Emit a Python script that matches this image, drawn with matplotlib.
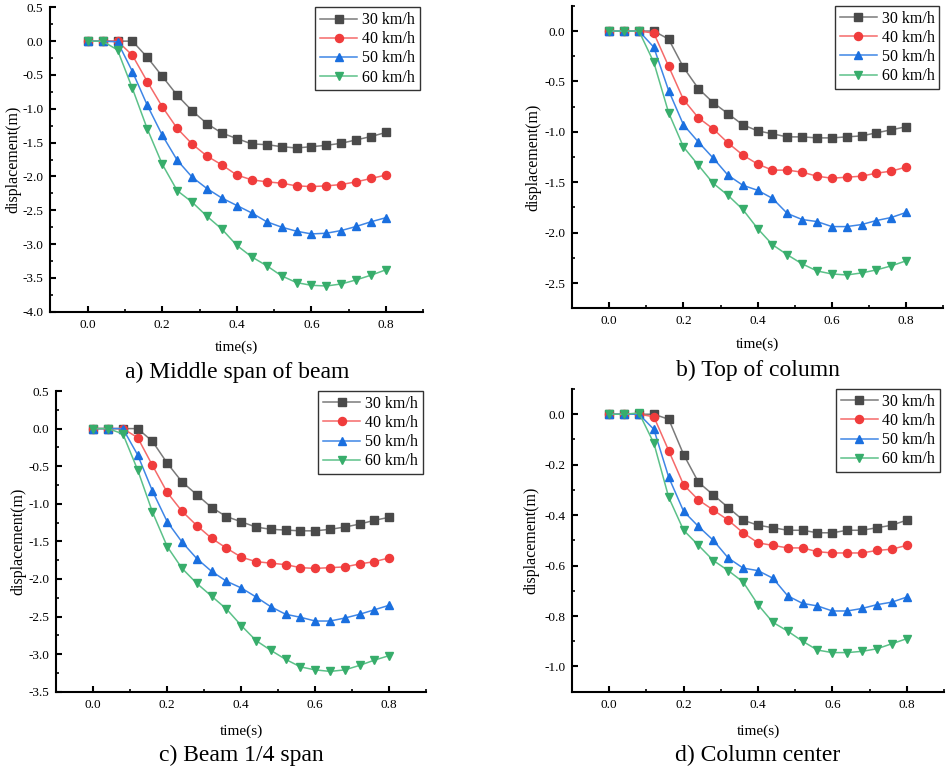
import matplotlib
matplotlib.use("Agg")
import matplotlib.pyplot as plt
from matplotlib.ticker import MultipleLocator, FormatStrFormatter

plt.rcParams['font.family'] = ['Liberation Serif', 'DejaVu Serif']

time = [0.00, 0.04, 0.08, 0.12, 0.16, 0.20, 0.24, 0.28, 0.32, 0.36, 0.40,
        0.44, 0.48, 0.52, 0.56, 0.60, 0.64, 0.68, 0.72, 0.76, 0.80]
speeds = ["30 km/h", "40 km/h", "50 km/h", "60 km/h"]

# a) Middle span of beam
a_30 = [0, 0, 0, 0, -0.24, -0.52, -0.80, -1.03, -1.22, -1.36, -1.44,
        -1.52, -1.53, -1.56, -1.58, -1.56, -1.54, -1.51, -1.46, -1.41, -1.35]
a_40 = [0, 0, 0, -0.21, -0.60, -0.97, -1.29, -1.52, -1.70, -1.83, -1.98,
        -2.05, -2.08, -2.10, -2.14, -2.15, -2.14, -2.12, -2.08, -2.03, -1.98]
a_50 = [0, 0, -0.01, -0.45, -0.95, -1.39, -1.76, -2.01, -2.18, -2.32, -2.43,
        -2.54, -2.67, -2.75, -2.81, -2.85, -2.84, -2.80, -2.74, -2.67, -2.61]
a_60 = [0, 0, -0.13, -0.70, -1.30, -1.82, -2.21, -2.38, -2.59, -2.78, -3.02,
        -3.19, -3.32, -3.47, -3.57, -3.61, -3.62, -3.59, -3.53, -3.46, -3.38]

# b) Top of column
b_30 = [0, 0, 0, 0, -0.08, -0.36, -0.57, -0.71, -0.82, -0.93, -0.99,
        -1.02, -1.05, -1.05, -1.06, -1.06, -1.05, -1.04, -1.01, -0.98, -0.95]
b_40 = [0, 0, 0, -0.02, -0.35, -0.68, -0.86, -0.97, -1.11, -1.23, -1.32,
        -1.38, -1.38, -1.40, -1.44, -1.46, -1.45, -1.44, -1.41, -1.39, -1.35]
b_50 = [0, 0, 0, -0.16, -0.59, -0.93, -1.10, -1.26, -1.43, -1.53, -1.58,
        -1.66, -1.81, -1.87, -1.89, -1.94, -1.94, -1.92, -1.88, -1.85, -1.80]
b_60 = [0, 0, 0, -0.31, -0.81, -1.15, -1.33, -1.51, -1.63, -1.77, -1.96,
        -2.12, -2.22, -2.31, -2.38, -2.41, -2.42, -2.40, -2.37, -2.33, -2.28]

# c) Beam 1/4 span
c_30 = [0, 0, 0, 0, -0.17, -0.46, -0.71, -0.88, -1.05, -1.17, -1.24,
        -1.31, -1.34, -1.35, -1.36, -1.36, -1.34, -1.31, -1.27, -1.22, -1.18]
c_40 = [0, 0, 0, -0.12, -0.49, -0.85, -1.10, -1.29, -1.46, -1.59, -1.71,
        -1.77, -1.79, -1.81, -1.85, -1.86, -1.85, -1.84, -1.80, -1.77, -1.72]
c_50 = [0, 0, 0, -0.35, -0.83, -1.24, -1.51, -1.73, -1.90, -2.03, -2.12,
        -2.24, -2.37, -2.47, -2.51, -2.56, -2.56, -2.52, -2.47, -2.41, -2.35]
c_60 = [0, 0, -0.07, -0.55, -1.11, -1.57, -1.86, -2.06, -2.23, -2.40, -2.62,
        -2.82, -2.95, -3.07, -3.17, -3.21, -3.23, -3.21, -3.15, -3.08, -3.02]

# d) Column center
d_30 = [0, 0, 0, 0, -0.02, -0.16, -0.27, -0.32, -0.37, -0.42, -0.44,
        -0.45, -0.46, -0.46, -0.47, -0.47, -0.46, -0.46, -0.45, -0.44, -0.42]
d_40 = [0, 0, 0, -0.01, -0.145, -0.28, -0.34, -0.38, -0.42, -0.47, -0.51,
        -0.52, -0.53, -0.53, -0.545, -0.55, -0.55, -0.55, -0.54, -0.535, -0.52]
d_50 = [0, 0, 0, -0.06, -0.25, -0.385, -0.445, -0.50, -0.57, -0.61, -0.62,
        -0.65, -0.72, -0.75, -0.76, -0.78, -0.78, -0.77, -0.755, -0.745, -0.725]
d_60 = [0, 0, 0.005, -0.115, -0.33, -0.46, -0.52, -0.58, -0.62, -0.665, -0.755,
        -0.825, -0.86, -0.90, -0.935, -0.945, -0.945, -0.94, -0.93, -0.91, -0.89]

captions = ["a) Middle span of beam", "b) Top of column",
            "c) Beam 1/4 span", "d) Column center"]

marker_colors = ["#4a4a4a", "#f03c3c", "#1a6fdf", "#37ad6b"]
line_colors = ["#7a7a7a", "#f56a6a", "#3f86e6", "#5cc189"]
markers = ["s", "o", "^", "v"]

panels = [
    dict(data=[a_30, a_40, a_50, a_60], rect=[0.0532, 0.5952, 0.3938, 0.3953],
         ylim=(-4.0, 0.5), major=0.5, minor=0.25, fmt="%.1f",
         xlab_y=347, cap_y=372, ylab_x=21),
    dict(data=[b_30, b_40, b_50, b_60], rect=[0.6042, 0.5997, 0.3917, 0.3927],
         ylim=(-2.75, 0.25), major=0.5, minor=0.25, fmt="%.1f",
         xlab_y=344, cap_y=370, ylab_x=541),
    dict(data=[c_30, c_40, c_50, c_60], rect=[0.0594, 0.1017, 0.3907, 0.3905],
         ylim=(-3.5, 0.5), major=0.5, minor=0.25, fmt="%.1f",
         xlab_y=731, cap_y=755, ylab_x=26),
    dict(data=[d_30, d_40, d_50, d_60], rect=[0.6041, 0.1017, 0.3926, 0.3931],
         ylim=(-1.1, 0.1), major=0.2, minor=0.1, fmt="%.1f",
         xlab_y=731, cap_y=755, ylab_x=539),
]

W = 947.0
H = 770.0
fig = plt.figure(figsize=(9.47, 7.70), dpi=100)

for p, cap in zip(panels, captions):
    ax = fig.add_axes(p["rect"])
    for series, lab, mc, lc, mk in zip(p["data"], speeds, marker_colors, line_colors, markers):
        ax.plot(time, series, color=lc, lw=1.1, marker=mk, markersize=5.8,
                markerfacecolor=mc, markeredgecolor=mc, label=lab)
    ax.set_xlim(-0.1, 0.9)
    ax.set_ylim(*p["ylim"])
    ax.xaxis.set_major_locator(MultipleLocator(0.2))
    ax.xaxis.set_minor_locator(MultipleLocator(0.1))
    ax.xaxis.set_major_formatter(FormatStrFormatter("%.1f"))
    ax.yaxis.set_major_locator(MultipleLocator(p["major"]))
    ax.yaxis.set_minor_locator(MultipleLocator(p["minor"]))
    ax.yaxis.set_major_formatter(FormatStrFormatter(p["fmt"]))
    for s in ["top", "right"]:
        ax.spines[s].set_visible(False)
    for s in ["left", "bottom"]:
        ax.spines[s].set_linewidth(1.5)
    ax.tick_params(which="major", direction="in", length=4, width=1.5, labelsize=9.5, pad=5)
    ax.tick_params(which="minor", direction="in", length=2.5, width=1.2)
    ax.set_ylabel("displacement(m)", fontsize=11.5)
    left_px = p["rect"][0] * W
    width_px = p["rect"][2] * W
    ax.yaxis.set_label_coords((p["ylab_x"] - left_px) / width_px, 0.5)
    leg = ax.legend(loc="upper right", bbox_to_anchor=(0.99, 1.0), fontsize=11.5,
                    frameon=True, fancybox=False,
                    borderaxespad=0.0, handlelength=2.3, handletextpad=0.3,
                    labelspacing=0.2, borderpad=0.3)
    leg.get_frame().set_edgecolor("black")
    leg.get_frame().set_linewidth(1.0)
    cx = p["rect"][0] + p["rect"][2] / 2
    fig.text(cx, 1 - p["xlab_y"] / H, "time(s)", ha="center", va="center", fontsize=11)
    fig.text(cx, 1 - p["cap_y"] / H, cap, ha="center", va="center", fontsize=17)

fig.savefig("out.png", dpi=100)
